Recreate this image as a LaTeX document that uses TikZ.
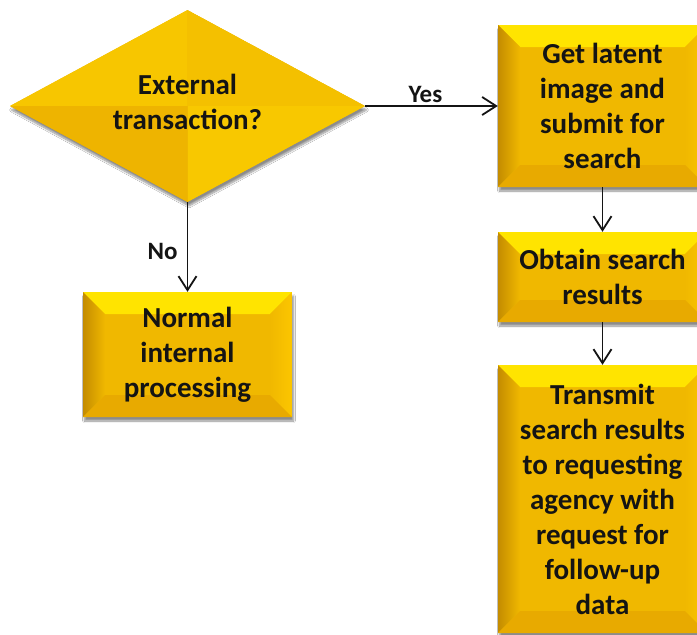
\documentclass[tikz,border=0pt]{standalone}
\usepackage{fontspec}
\setmainfont{Carlito}
\usetikzlibrary{shapes.geometric,arrows.meta,shadows.blur}
\definecolor{gmid}{RGB}{240,184,0}
\definecolor{gtop}{RGB}{255,228,0}
\definecolor{gleftout}{RGB}{196,140,0}
\definecolor{gright}{RGB}{252,198,0}
\definecolor{gbot}{RGB}{232,170,0}
\definecolor{ink}{RGB}{20,20,20}
\definecolor{dTL}{RGB}{247,198,0}
\definecolor{dTR}{RGB}{244,192,0}
\definecolor{dBL}{RGB}{238,180,0}
\definecolor{dBR}{RGB}{248,200,0}
\tikzset{
  txt/.style={font=\bfseries\fontsize{29}{35}\selectfont, text=ink, align=center},
  lbl/.style={font=\bfseries\fontsize{25}{30}\selectfont, text=ink},
  shad/.style={blur shadow={shadow xshift=1.5pt, shadow yshift=-4pt, shadow blur steps=8, shadow opacity=45}},
  bevelbox/.style={rectangle, draw=none, fill=gmid, inner sep=0pt,
    minimum width=209pt, minimum height=#1, txt, shad,
    path picture={
      \fill[gtop] (path picture bounding box.north west) -- (path picture bounding box.north east)
        -- ([shift={(-22pt,-22pt)}]path picture bounding box.north east)
        -- ([shift={(22pt,-22pt)}]path picture bounding box.north west) -- cycle;
      \shade[left color=gleftout, right color=gmid] (path picture bounding box.north west)
        -- ([shift={(22pt,-22pt)}]path picture bounding box.north west)
        -- ([shift={(22pt,22pt)}]path picture bounding box.south west)
        -- (path picture bounding box.south west) -- cycle;
      \shade[left color=gmid, right color=gright] (path picture bounding box.north east)
        -- ([shift={(-22pt,-22pt)}]path picture bounding box.north east)
        -- ([shift={(-22pt,22pt)}]path picture bounding box.south east)
        -- (path picture bounding box.south east) -- cycle;
      \fill[gbot] (path picture bounding box.south west) -- (path picture bounding box.south east)
        -- ([shift={(-22pt,22pt)}]path picture bounding box.south east)
        -- ([shift={(22pt,22pt)}]path picture bounding box.south west) -- cycle;
    }},
  decision/.style={diamond, aspect=1.85, minimum width=355pt, minimum height=192pt,
    inner sep=0pt, fill=gmid, draw=none, shad,
    path picture={
      \fill[dTL] (path picture bounding box.center) -- (path picture bounding box.west) -- (path picture bounding box.north) -- cycle;
      \fill[dTR] (path picture bounding box.center) -- (path picture bounding box.north) -- (path picture bounding box.east) -- cycle;
      \fill[dBR] (path picture bounding box.center) -- (path picture bounding box.east) -- (path picture bounding box.south) -- cycle;
      \fill[dBL] (path picture bounding box.center) -- (path picture bounding box.south) -- (path picture bounding box.west) -- cycle;
    }},
  arr/.style={draw=ink, line width=1.8pt, -{Straight Barb[length=14pt,width=18pt,line width=1.8pt]}}
}
\begin{document}
\begin{tikzpicture}[x=1pt,y=-1pt]
\clip (0,0) rectangle (697,635);
\fill[white] (0,0) rectangle (697,635);
\node[decision] (q) at (187.5,106) {};
\node[txt, inner sep=0pt] (qt) at ([yshift=4.5pt]q.center) {External\\transaction?};
\node[bevelbox=125pt] (n) at (187.5,354.5) {Normal\\internal\\processing};
\node[bevelbox=162pt] (b1) at (602.5,106) {Get latent\\image and\\submit for\\search};
\node[bevelbox=90pt] (b2) at (602.5,277) {Obtain search\\results};
\node[bevelbox=268pt] (b3) at (602.5,499) {Transmit\\search results\\to requesting\\agency with\\request for\\follow-up\\data};
\draw[arr] (q.east) -- node[above, lbl, inner sep=2pt, xshift=-6pt] {Yes} (b1.west);
\draw[arr] (q.south) -- node[left, lbl, inner sep=9pt, yshift=-4pt] {No} (n.north);
\draw[arr] (b1.south) -- (b2.north);
\draw[arr] (b2.south) -- (b3.north);
\end{tikzpicture}
\end{document}
